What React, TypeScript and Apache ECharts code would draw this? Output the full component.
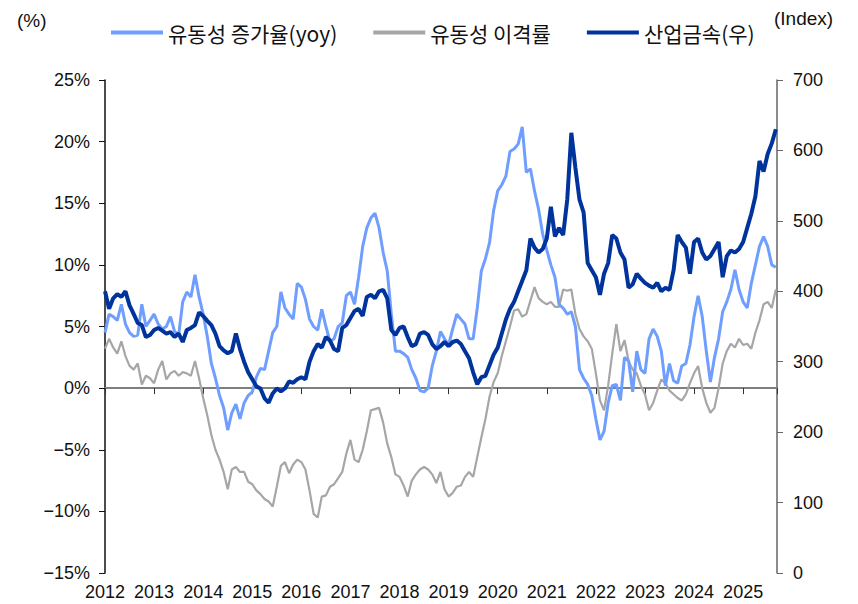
import React, { useEffect, useRef } from "react";
import * as echarts from "echarts";

// Monthly readings, Jan 2012 .. Sep 2025
const START_YEAR = 2012;
const yearTicks = [2012, 2013, 2014, 2015, 2016, 2017, 2018, 2019, 2020, 2021, 2022, 2023, 2024, 2025];

// 유동성 증가율(yoy), %
const liquidityYoY = [
  4.5, 6.0, 5.8, 5.5, 6.8, 5.2, 4.5, 4.2, 4.3, 6.8, 5.0, 5.5,
  6.0, 5.2, 4.8, 5.0, 5.8, 4.6, 4.3, 7.0, 7.8, 7.4, 9.2, 7.4,
  6.0, 4.2, 2.0, 0.8, -0.6, -1.6, -3.4, -2.0, -1.3, -2.5, -1.2, -0.6,
  -0.3, 0.9, 1.6, 1.5, 3.0, 4.5, 5.0, 7.8, 6.5, 6.0, 5.6, 8.5,
  8.2, 7.2, 5.6, 5.0, 4.7, 6.4, 5.0, 3.8, 4.0, 5.0, 5.3, 7.5,
  7.8, 6.8, 9.0, 11.5, 13.0, 13.8, 14.2, 13.0, 11.0, 9.5, 6.0, 3.0,
  3.0, 2.8, 2.5, 1.5, 0.8, -0.2, -0.3, 0.0, 1.8, 3.0, 4.6, 4.0,
  3.5, 4.8, 6.0, 5.6, 5.2, 4.0, 4.0, 6.5, 9.5, 10.5, 11.8, 14.4,
  16.0, 16.5, 17.2, 19.2, 19.4, 19.8, 21.2, 17.5, 17.8, 16.0, 14.5, 12.5,
  11.2, 10.0, 9.0, 6.8, 6.5, 6.0, 6.2, 5.0, 1.5, 0.8, 0.3, -0.6,
  -2.5, -4.2, -3.5, -1.2, 0.2, 0.3, -1.0, 2.5, 2.2, -0.3, 3.0, 1.5,
  1.2, 4.0, 4.8, 4.2, 3.0, 0.2, 2.0, 0.6, 0.4, 1.8, 2.0, 3.5,
  5.8, 7.5, 5.8, 3.0, 0.5, 2.5, 4.0, 6.2, 7.0, 8.0, 9.6, 8.0,
  7.0, 6.5, 8.5, 10.0, 11.5, 12.3, 11.5, 10.0, 9.8
];

// 유동성 이격률, %
const liquidityGap = [
  3.2, 4.0, 3.3, 2.8, 3.8, 2.6, 1.8, 1.5, 2.0, 0.3, 1.0, 0.8,
  0.4, 1.5, 2.2, 0.7, 1.2, 1.4, 1.0, 1.3, 1.2, 1.0, 2.2, 0.8,
  -0.8, -2.2, -3.8, -5.0, -5.8, -6.8, -8.2, -6.6, -6.4, -6.8, -6.8, -7.6,
  -7.8, -8.3, -8.6, -9.0, -9.2, -9.6, -8.0, -6.3, -6.0, -6.9, -6.2, -5.8,
  -6.0, -6.6, -8.3, -10.2, -10.5, -8.8, -8.7, -8.0, -7.8, -7.3, -6.8, -5.3,
  -4.2, -5.8, -6.0, -5.0, -3.5, -1.8, -1.7, -1.6, -2.8, -4.5, -5.6, -7.0,
  -7.2, -7.9, -8.8, -7.5, -7.0, -6.6, -6.4, -6.6, -7.0, -7.7, -6.8, -8.2,
  -8.8, -8.5, -8.0, -7.9, -7.2, -6.8, -7.2, -5.6, -4.0, -2.5, -0.7, 0.5,
  1.2, 2.6, 3.8, 5.0, 6.3, 6.4, 5.8, 6.0, 7.1, 8.2, 7.3, 7.0,
  6.8, 7.0, 6.6, 6.6, 8.0, 7.9, 8.0, 6.0, 4.8, 4.2, 3.8, 3.2,
  1.2, -1.0, -1.8, 0.2, 2.8, 5.2, 3.0, 3.9, 2.2, 1.5, 1.2, 0.2,
  -0.5, -1.8, -1.2, -0.2, 0.7, 0.4, -0.2, -0.5, -0.8, -1.0, -0.5, 0.4,
  1.2, 1.8, 0.0, -1.2, -2.0, -1.6, 0.0, 2.0, 3.0, 3.6, 3.3, 4.0,
  3.5, 3.6, 3.2, 4.5, 5.5, 6.8, 7.0, 6.5, 8.0
];

// 산업금속(우), index
const industrialMetals = [
  400, 375, 390, 396, 392, 400, 380, 368, 355, 352, 335, 338,
  345, 348, 344, 340, 342, 335, 340, 328, 345, 348, 352, 370,
  365, 358, 352, 340, 322, 316, 312, 315, 340, 318, 300, 285,
  275, 265, 262, 248, 242, 255, 262, 258, 262, 272, 270, 275,
  278, 275, 300, 315, 325, 320, 335, 330, 318, 315, 348, 352,
  362, 372, 375, 365, 392, 395, 390, 400, 402, 390, 345, 338,
  348, 350, 335, 322, 325, 340, 342, 338, 325, 318, 322, 328,
  322, 328, 330, 325, 315, 305, 285, 268, 278, 280, 295, 310,
  320, 340, 360, 375, 385, 400, 415, 430, 475, 462, 455, 460,
  475, 520, 478, 490, 480, 530, 625, 575, 530, 512, 440, 430,
  420, 395, 425, 440, 480, 475, 455, 445, 405, 410, 425, 418,
  412, 408, 405, 412, 400, 405, 402, 430, 480, 470, 462, 425,
  470, 475, 455, 445, 450, 460, 470, 420, 450, 458, 455, 460,
  470, 490, 510, 535, 585, 570, 595, 610, 630
];

const legendNames = ["유동성 증가율(yoy)", "유동성 이격률", "산업금속(우)"];

const toPairs = (arr: number[]) => arr.map((v, i) => [START_YEAR + i / 12, v]);

const NUM_FONT = "'Liberation Sans', Arial, sans-serif";
const KR_FONT = "'Noto Sans CJK KR', 'Noto Sans', sans-serif";

export default function App() {
  const ref = useRef<HTMLDivElement>(null);

  useEffect(() => {
    if (!ref.current) return;
    const chart = echarts.init(ref.current, undefined, { renderer: "svg" });
    const xMin = yearTicks[0];
    const xMax = 2025.69;
    chart.setOption({
      animation: false,
      backgroundColor: "#ffffff",
      grid: { left: 105, right: 81, top: 80, bottom: 31, containLabel: false },
      legend: {
        data: legendNames,
        left: 106,
        top: 17,
        itemWidth: 52,
        itemHeight: 4,
        itemGap: 36,
        icon: "rect",
        textStyle: { fontFamily: KR_FONT, fontSize: 21, color: "#111" },
      },
      graphic: [
        { type: "text", left: 17, top: 11, style: { text: "(%)", fontFamily: NUM_FONT, fontSize: 19, fill: "#111" } },
        { type: "text", left: 774, top: 9, style: { text: "(Index)", fontFamily: NUM_FONT, fontSize: 19, fill: "#111" } },
      ],
      xAxis: [
        {
          type: "value",
          min: xMin,
          max: xMax,
          interval: 1,
          position: "bottom",
          axisLine: { show: false, onZero: false },
          axisTick: { show: false },
          splitLine: { show: false },
          axisLabel: {
            margin: 10,
            showMaxLabel: false,
            fontFamily: NUM_FONT,
            fontSize: 18,
            color: "#111",
            formatter: (v: number) => (Number.isInteger(v) ? String(v) : ""),
          },
        },
        {
          type: "value",
          min: xMin,
          max: xMax,
          interval: 1,
          position: "bottom",
          axisLine: { show: true, onZero: true, onZeroAxisIndex: 0, lineStyle: { color: "#7f7f7f", width: 2 } },
          axisTick: { show: true, length: 6, lineStyle: { color: "#333", width: 1 } },
          axisLabel: { show: false },
          splitLine: { show: false },
        },
      ],
      yAxis: [
        {
          type: "value",
          min: -15,
          max: 25,
          interval: 5,
          position: "left",
          axisLine: { show: true, lineStyle: { color: "#111", width: 1.5 } },
          axisTick: { show: true, length: 6, lineStyle: { color: "#111", width: 1 } },
          splitLine: { show: false },
          axisLabel: {
            margin: 15,
            fontFamily: NUM_FONT,
            fontSize: 18,
            color: "#111",
            formatter: (v: number) => (v < 0 ? "\u2212" + Math.abs(v) : String(v)) + "%",
          },
        },
        {
          type: "value",
          min: 0,
          max: 700,
          interval: 100,
          position: "right",
          axisLine: { show: true, lineStyle: { color: "#666", width: 1.5 } },
          axisTick: { show: true, length: 6, lineStyle: { color: "#666", width: 1 } },
          splitLine: { show: false },
          axisLabel: { margin: 16, fontFamily: NUM_FONT, fontSize: 18, color: "#111" },
        },
      ],
      series: [
        {
          name: legendNames[1],
          type: "line",
          xAxisIndex: 0,
          yAxisIndex: 0,
          data: toPairs(liquidityGap),
          symbol: "none",
          lineStyle: { color: "#a6a6a6", width: 2.2 },
          itemStyle: { color: "#a6a6a6" },
          z: 2,
        },
        {
          name: legendNames[0],
          type: "line",
          xAxisIndex: 0,
          yAxisIndex: 0,
          data: toPairs(liquidityYoY),
          symbol: "none",
          lineStyle: { color: "#6f9eff", width: 3 },
          itemStyle: { color: "#6f9eff" },
          z: 3,
        },
        {
          name: legendNames[2],
          type: "line",
          xAxisIndex: 0,
          yAxisIndex: 1,
          data: toPairs(industrialMetals),
          symbol: "none",
          lineStyle: { color: "#00349c", width: 4 },
          itemStyle: { color: "#00349c" },
          z: 4,
        },
      ],
    });
    return () => chart.dispose();
  }, []);

  return <div ref={ref} style={{ position: "fixed", left: 0, top: 0, width: 858, height: 604 }} />;
}
